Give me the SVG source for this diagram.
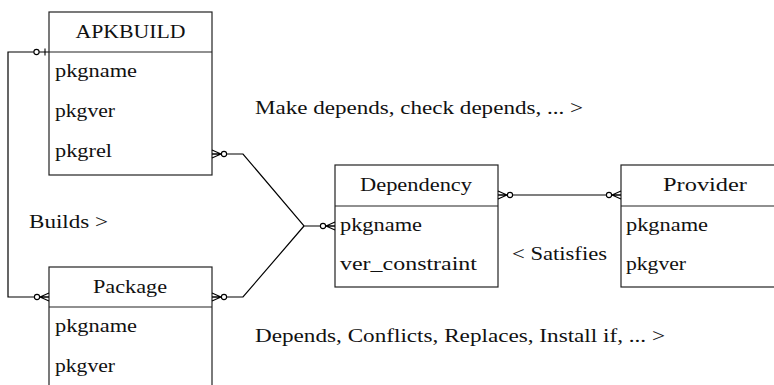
<svg xmlns="http://www.w3.org/2000/svg" width="774" height="385" viewBox="0 0 774 385">
<style>
  .box { fill: #fff; stroke: #222; stroke-width: 1.2; }
  .div { stroke: #222; stroke-width: 1.2; }
  .conn { fill: none; stroke: #000; stroke-width: 1.2; }
  .ring { fill: #fff; stroke: #000; stroke-width: 1.1; }
</style>
<defs>
  <g id="zm">
    <path d="M-9,0 L0,-4 M-9,0 L0,4 M-9,0 H0" fill="none" stroke="#000" stroke-width="1.1"/>
    <circle class="ring" cx="-12" cy="0" r="2.6"/>
  </g>
  <g id="zo">
    <path d="M-4,-3.5 V3.5" fill="none" stroke="#000" stroke-width="1.1"/>
    <circle class="ring" cx="-12.5" cy="0" r="2.6"/>
  </g>
</defs>

<g id="connectors">
  <path class="conn" d="M49,52 H8 V297 H49"/>
  <path class="conn" d="M212,154 H243 L304,226 H335"/>
  <path class="conn" d="M212,297 H243 L304,226"/>
  <path class="conn" d="M498,195 H621"/>
</g>

<g font-family="Liberation Serif, DejaVu Serif, serif" font-size="18" fill="#111">
<g id="APKBUILD">
  <rect class="box" x="49" y="12" width="163" height="163"/>
  <line class="div" x1="49" y1="52" x2="212" y2="52"/>
  <text x="75.5" y="38" textLength="110" lengthAdjust="spacingAndGlyphs">APKBUILD</text>
  <text x="55" y="77" textLength="82" lengthAdjust="spacingAndGlyphs">pkgname</text>
  <text x="55" y="117" textLength="60" lengthAdjust="spacingAndGlyphs">pkgver</text>
  <text x="55" y="157" textLength="57" lengthAdjust="spacingAndGlyphs">pkgrel</text>
</g>

<g id="Package">
  <rect class="box" x="49" y="267" width="163" height="130"/>
  <line class="div" x1="49" y1="307" x2="212" y2="307"/>
  <text x="93" y="293" textLength="74" lengthAdjust="spacingAndGlyphs">Package</text>
  <text x="55" y="332" textLength="82" lengthAdjust="spacingAndGlyphs">pkgname</text>
  <text x="55" y="372" textLength="60" lengthAdjust="spacingAndGlyphs">pkgver</text>
</g>

<g id="Dependency">
  <rect class="box" x="335" y="165" width="163" height="122"/>
  <line class="div" x1="335" y1="206" x2="498" y2="206"/>
  <text x="360" y="191" textLength="112" lengthAdjust="spacingAndGlyphs">Dependency</text>
  <text x="340" y="231" textLength="82" lengthAdjust="spacingAndGlyphs">pkgname</text>
  <text x="340" y="270" textLength="137" lengthAdjust="spacingAndGlyphs">ver_constraint</text>
</g>

<g id="Provider">
  <rect class="box" x="621" y="165" width="163" height="122"/>
  <line class="div" x1="621" y1="206" x2="784" y2="206"/>
  <text x="663" y="191" textLength="84" lengthAdjust="spacingAndGlyphs">Provider</text>
  <text x="626" y="231" textLength="82" lengthAdjust="spacingAndGlyphs">pkgname</text>
  <text x="626" y="270" textLength="60" lengthAdjust="spacingAndGlyphs">pkgver</text>
</g>

<g id="labels">
  <text x="255" y="114" textLength="328" lengthAdjust="spacingAndGlyphs">Make depends, check depends, ... &gt;</text>
  <text x="29" y="228" textLength="79" lengthAdjust="spacingAndGlyphs">Builds &gt;</text>
  <text x="512" y="260" textLength="95" lengthAdjust="spacingAndGlyphs">&lt; Satisfies</text>
  <text x="255" y="342" textLength="410" lengthAdjust="spacingAndGlyphs">Depends, Conflicts, Replaces, Install if, ... &gt;</text>
</g>
</g>

<g id="ends">
  <use href="#zo" transform="translate(49,52)"/>
  <use href="#zm" transform="translate(49,297)"/>
  <use href="#zm" transform="translate(212,154) scale(-1,1)"/>
  <use href="#zm" transform="translate(212,297) scale(-1,1)"/>
  <use href="#zm" transform="translate(335,226)"/>
  <use href="#zm" transform="translate(498,195) scale(-1,1)"/>
  <use href="#zm" transform="translate(621,195)"/>
</g>
</svg>
